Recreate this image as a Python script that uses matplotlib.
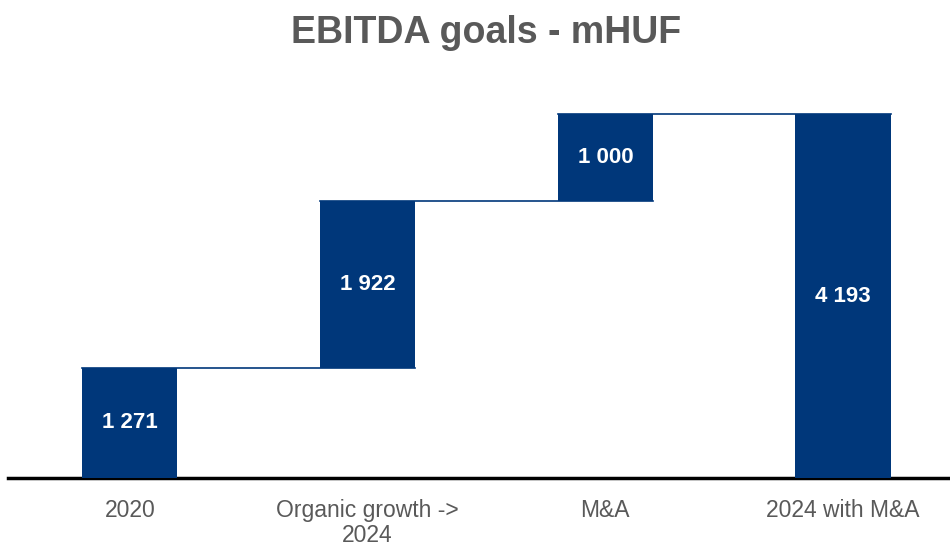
import numpy as np
import matplotlib.pyplot as plt

plt.rcParams['font.family'] = ['Liberation Sans', 'DejaVu Sans']

categories = ['2020', 'Organic growth ->\n2024', 'M&A', '2024 with M&A']
values = [1271, 1922, 1000, 4193]
is_total = [True, False, False, True]
value_labels = ['1 271', '1 922', '1 000', '4 193']

bar_color = '#00377A'
text_gray = '#595959'

# waterfall bottoms
bottoms = []
running = 0
for v, tot in zip(values, is_total):
    if tot:
        bottoms.append(0)
        running = v
    else:
        bottoms.append(running)
        running += v

fig = plt.figure(figsize=(9.5, 5.42), dpi=100)
ax = fig.add_axes([8 / 950, 0.118, 1 - 8 / 950, 0.80])

x = np.arange(len(categories))
width = 0.4
ax.bar(x, values, width=width, bottom=bottoms, color=bar_color, zorder=3)

# connectors between consecutive bars
for i in range(len(values) - 1):
    level = bottoms[i] + values[i]
    ax.plot([x[i] - width / 2, x[i + 1] + width / 2], [level, level],
            color=bar_color, lw=1.2, zorder=2)

for i, lab in enumerate(value_labels):
    ax.text(x[i], bottoms[i] + values[i] / 2, lab, ha='center', va='center',
            color='white', fontsize=16, fontweight='bold', zorder=4)

ax.set_xlim(-0.513, 3.45)
ax.set_ylim(0, 5000)
ax.set_xticks(x)
ax.set_xticklabels(categories, fontsize=16.5, color=text_gray, linespacing=1.12)
ax.tick_params(axis='x', length=0, pad=15)
ax.set_yticks([])
for s in ['top', 'right', 'left']:
    ax.spines[s].set_visible(False)
ax.spines['bottom'].set_linewidth(2.5)
ax.spines['bottom'].set_color('black')

fig.text(486 / 950, 1 - 33 / 542, 'EBITDA goals - mHUF', ha='center', va='center',
         fontsize=27, fontweight='bold', color=text_gray)

fig.savefig('out.png', dpi=100)
